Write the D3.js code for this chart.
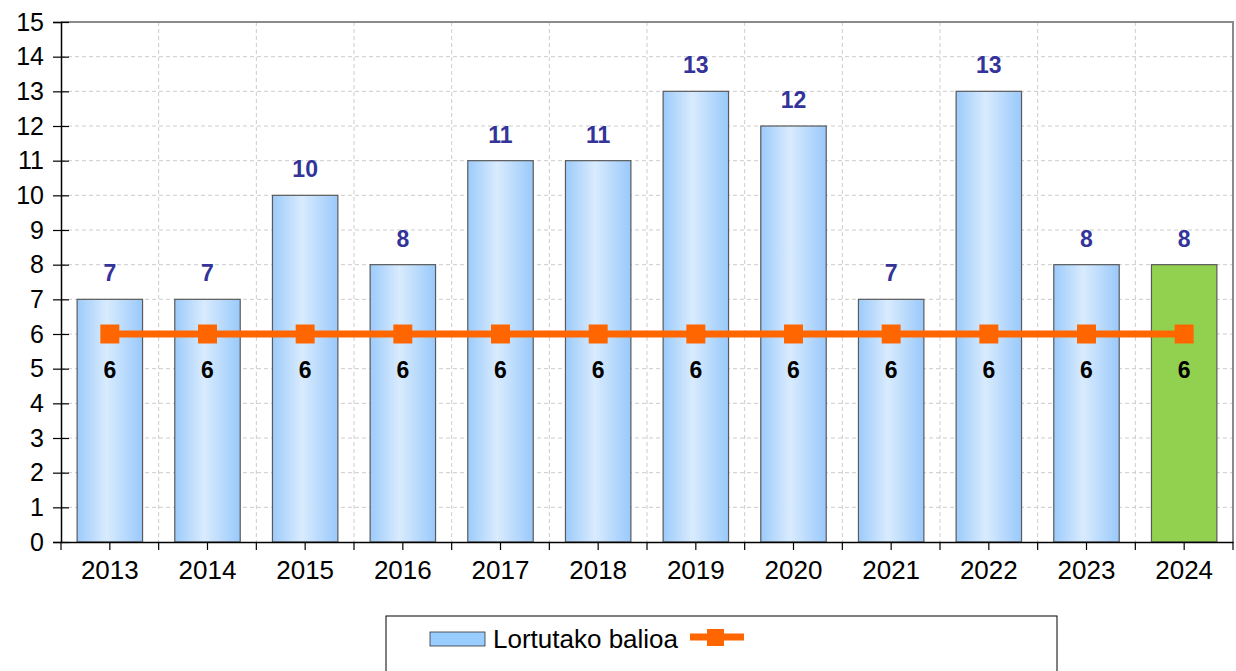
<!DOCTYPE html>
<html><head><meta charset="utf-8">
<script src="https://cdn.jsdelivr.net/npm/d3@7"></script>
<style>body{margin:0;background:#fff}svg{display:block}</style>
</head><body>
<svg id="c" width="1236" height="671"></svg>
<script>
const years = ["2013","2014","2015","2016","2017","2018","2019","2020","2021","2022","2023","2024"];
const achieved = [7,7,10,8,11,11,13,12,7,13,8,8];
const target = [6,6,6,6,6,6,6,6,6,6,6,6];
const yTicks = [0,1,2,3,4,5,6,7,8,9,10,11,12,13,14,15];
const legendLabel = "Lortutako balioa";

const svg = d3.select("#c");
const m = {l:61, r:1233, t:22, b:542};
const x = d3.scaleBand().domain(years).range([m.l, m.r]).paddingInner(0).paddingOuter(0);
const y = d3.scaleLinear().domain([0,15]).range([m.b, m.t]);
const font = "'Liberation Sans', Arial, sans-serif";

const defs = svg.append("defs");
const g = defs.append("linearGradient").attr("id","bg").attr("x1","0").attr("x2","1").attr("y1","0").attr("y2","0");
g.append("stop").attr("offset","0").attr("stop-color","#9ccbfb");
g.append("stop").attr("offset","0.45").attr("stop-color","#d9ebfd");
g.append("stop").attr("offset","1").attr("stop-color","#99c9fb");

// grid
svg.append("g").selectAll("line").data(yTicks.slice(1,-1)).join("line")
  .attr("x1",m.l).attr("x2",m.r).attr("y1",d=>y(d)).attr("y2",d=>y(d))
  .attr("stroke","#cccccc").attr("stroke-dasharray","4,3").attr("stroke-width",1);
svg.append("g").selectAll("line").data(years.slice(1)).join("line")
  .attr("x1",d=>x(d)).attr("x2",d=>x(d)).attr("y1",m.t).attr("y2",m.b)
  .attr("stroke","#cccccc").attr("stroke-dasharray","4,3").attr("stroke-width",1);

// plot border top/right
svg.append("path").attr("d",`M${m.l},${m.t}H${m.r}V${m.b}`).attr("fill","none").attr("stroke","#8a8a8a").attr("stroke-width",2);

// bars
const bw = x.bandwidth()*0.67;
svg.append("g").selectAll("rect").data(years).join("rect")
  .attr("x",d=>x(d)+x.bandwidth()/2-bw/2).attr("width",bw)
  .attr("y",(d,i)=>y(achieved[i])).attr("height",(d,i)=>y(0)-y(achieved[i]))
  .attr("fill",(d,i)=>i===years.length-1?"#92d050":"url(#bg)")
  .attr("stroke","#5a5a5a").attr("stroke-width",1.2);

// axes
const ya = d3.axisLeft(y).tickValues(yTicks).tickSize(8).tickFormat(d3.format("d"));
const yg = svg.append("g").attr("transform",`translate(${m.l},0)`).call(ya);
yg.attr("font-size",null).attr("font-family",null);
yg.select(".domain").attr("stroke","#000").attr("stroke-width",1.5);
yg.selectAll(".tick line").attr("stroke","#000").attr("x2",-8).attr("x1",8).attr("stroke-width",1.2);
yg.selectAll(".tick text").style("font-family",font).style("font-size","25px").attr("fill","#000").attr("x",-17);

const xa = d3.axisBottom(x).tickSize(0).tickPadding(18);
const xg = svg.append("g").attr("transform",`translate(0,${m.b})`).call(xa);
xg.attr("font-size",null).attr("font-family",null);
xg.select(".domain").attr("stroke","#000").attr("stroke-width",1.5);
xg.selectAll(".tick text").style("font-family",font).style("font-size","26px").attr("fill","#000").attr("dy","0.71em").attr("y",19);
// tick marks at boundaries and centers
const bounds = years.map(d=>x(d)).concat([x(years[years.length-1])+x.bandwidth()]);
svg.append("g").selectAll("line").data(bounds).join("line")
  .attr("x1",d=>d).attr("x2",d=>d).attr("y1",m.b).attr("y2",m.b+8).attr("stroke","#000").attr("stroke-width",1.2);
svg.append("g").selectAll("line").data(years).join("line")
  .attr("x1",d=>x(d)+x.bandwidth()/2).attr("x2",d=>x(d)+x.bandwidth()/2).attr("y1",m.b).attr("y2",m.b+8).attr("stroke","#000").attr("stroke-width",1.2);

// line
const cx = d=>x(d)+x.bandwidth()/2;
svg.append("path").datum(years).attr("fill","none").attr("stroke","#ff6600").attr("stroke-width",7)
  .attr("d",d3.line().x(d=>cx(d)).y((d,i)=>y(target[i])));
svg.append("g").selectAll("rect").data(years).join("rect")
  .attr("x",d=>cx(d)-9.5).attr("y",(d,i)=>y(target[i])-9.5).attr("width",19).attr("height",19)
  .attr("fill","#ff6600");

// labels
svg.append("g").selectAll("text").data(years).join("text")
  .attr("x",d=>cx(d)).attr("y",(d,i)=>y(achieved[i])-18)
  .attr("text-anchor","middle").style("font-family",font).attr("font-weight","bold").style("font-size","23px")
  .attr("fill","#333399").text((d,i)=>achieved[i]);
svg.append("g").selectAll("text").data(years).join("text")
  .attr("x",d=>cx(d)).attr("y",(d,i)=>y(target[i])+44)
  .attr("text-anchor","middle").style("font-family",font).attr("font-weight","bold").style("font-size","23px")
  .attr("fill","#000").text((d,i)=>target[i]);

// legend
const lg = svg.append("g");
lg.append("rect").attr("x",386).attr("y",616).attr("width",671).attr("height",70).attr("fill","#fff").attr("stroke","#000").attr("stroke-width",1);
lg.append("rect").attr("x",430).attr("y",632).attr("width",55).attr("height",14).attr("fill","#99ccff").attr("stroke","#333").attr("stroke-width",0.8);
lg.append("text").attr("x",493).attr("y",648).style("font-family",font).style("font-size","26px").attr("fill","#000").text(legendLabel);
lg.append("line").attr("x1",690).attr("x2",744).attr("y1",637).attr("y2",637).attr("stroke","#ff6600").attr("stroke-width",7);
lg.append("rect").attr("x",707).attr("y",629).attr("width",17).attr("height",17).attr("fill","#ff6600");
</script>
</body></html>
